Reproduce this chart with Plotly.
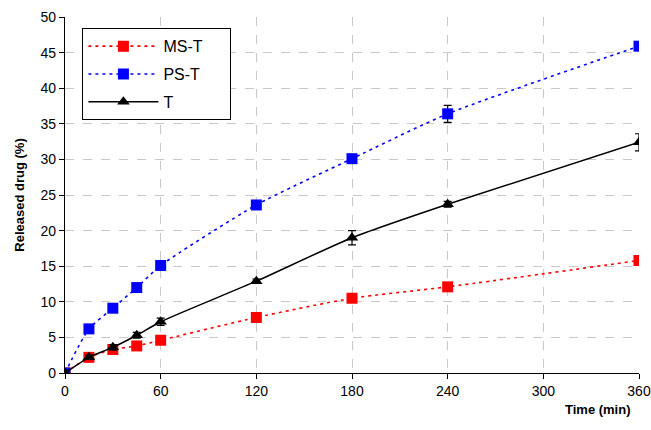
import plotly.graph_objects as go

time = [0, 15, 30, 45, 60, 120, 180, 240, 360]
ms_t = [0, 2.2, 3.3, 3.8, 4.6, 7.8, 10.5, 12.1, 15.8]
ms_t_err = [0, 0.3, 0.3, 0.3, 0.3, 0.3, 0.3, 0.3, 0.4]
ps_t = [0, 6.2, 9.1, 12.0, 15.1, 23.6, 30.1, 36.4, 45.9]
ps_t_err = [0, 0.5, 0.3, 0.3, 0.3, 0.3, 0.4, 1.2, 0.4]
t = [0, 2.2, 3.6, 5.3, 7.2, 12.9, 19.0, 23.7, 32.4]
t_err = [0, 0.3, 0.4, 0.4, 0.5, 0.3, 1.0, 0.4, 1.2]

x_ticks = [0, 60, 120, 180, 240, 300, 360]
y_ticks = [0, 5, 10, 15, 20, 25, 30, 35, 40, 45, 50]

FONT = "Liberation Sans, Arial, sans-serif"
NB = "\u00a0"

fig = go.Figure()

def err(vals):
    return dict(type="data", array=vals, visible=True, color="black", thickness=1.2, width=4)

fig.add_trace(go.Scatter(
    x=time, y=ms_t, name="MS-T" + NB * 5, mode="lines+markers", legendgroup="a",
    line=dict(color="#ff0000", width=1.6, dash="3px,4px", shape="spline", smoothing=0.6),
    marker=dict(symbol="square", size=11, color="#ff0000"),
    error_y=err(ms_t_err),
))
fig.add_trace(go.Scatter(
    x=time, y=ps_t, name="PS-T", mode="lines+markers", legendgroup="b",
    line=dict(color="#0000ff", width=1.6, dash="3px,4px", shape="spline", smoothing=0.6),
    marker=dict(symbol="square", size=11, color="#0000ff"),
    error_y=err(ps_t_err),
))
fig.add_trace(go.Scatter(
    x=time, y=t, name="T", mode="lines+markers", legendgroup="c",
    line=dict(color="black", width=1.5, shape="spline", smoothing=0.6),
    marker=dict(symbol="triangle-up", size=11, color="black"),
    error_y=err(t_err),
))

fig.update_layout(
    width=651, height=430,
    margin=dict(l=65, r=12, t=17, b=57),
    paper_bgcolor="white", plot_bgcolor="white",
    font=dict(family=FONT, size=14, color="black"),
    showlegend=True,
    legend=dict(
        x=0.03, y=0.969, xanchor="left", yanchor="top",
        bgcolor="white", bordercolor="black", borderwidth=1.2,
        font=dict(family=FONT, size=16),
        traceorder="grouped", tracegroupgap=4, itemwidth=70,
    ),
    annotations=[dict(
        text="<b>Time (min)</b>", x=0.99, y=-0.076, xref="paper", yref="paper",
        xanchor="right", yanchor="top", showarrow=False,
        font=dict(family=FONT, size=13),
    )],
)

fig.update_xaxes(
    range=[0, 360], tickvals=x_ticks, ticktext=[str(v) for v in x_ticks],
    showline=True, linecolor="black", linewidth=1.2,
    ticks="outside", ticklen=5, tickcolor="black",
    showgrid=True, gridcolor="#c8c8c8", griddash="dash", gridwidth=1,
    zeroline=False, tickfont=dict(size=14), automargin=False,
)
fig.update_yaxes(
    range=[0, 50], tickvals=y_ticks, ticktext=[str(v) for v in y_ticks],
    showline=True, linecolor="black", linewidth=1.2,
    ticks="outside", ticklen=5, tickcolor="black",
    showgrid=True, gridcolor="#c8c8c8", griddash="dash", gridwidth=1,
    zeroline=False, tickfont=dict(size=14), automargin=False,
    title=dict(text="<b>Released drug (%)</b>", font=dict(family=FONT, size=13), standoff=12),
)

fig.write_html(
    "out.html",
    config={"displayModeBar": False},
    post_script="document.body.style.margin='0px';document.body.style.overflow='hidden';",
)
